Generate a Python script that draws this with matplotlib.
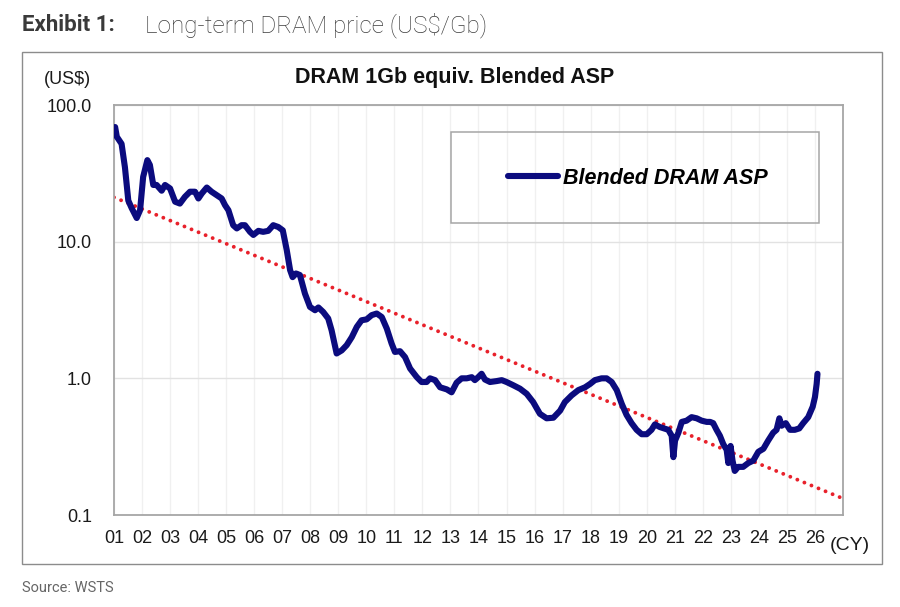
import matplotlib
matplotlib.use("Agg")
import matplotlib.pyplot as plt
from matplotlib.patches import Rectangle
import numpy as np

# blended DRAM ASP, US$ per 1Gb equivalent
years = [2001.04, 2001.10, 2001.27, 2001.39, 2001.51, 2001.63, 2001.81, 2001.93,
         2002.04, 2002.19, 2002.28, 2002.40, 2002.52, 2002.70, 2002.82, 2003.00,
         2003.18, 2003.35, 2003.53, 2003.71, 2003.89, 2004.01, 2004.13, 2004.31,
         2004.48, 2004.66, 2004.84, 2004.96, 2005.08, 2005.25, 2005.38, 2005.55,
         2005.67, 2005.85, 2005.97, 2006.15, 2006.32, 2006.50, 2006.68, 2006.86,
         2007.02, 2007.16, 2007.28, 2007.37, 2007.49, 2007.63, 2007.81, 2007.99,
         2008.17, 2008.29, 2008.46, 2008.64, 2008.76, 2008.94, 2009.12, 2009.30,
         2009.48, 2009.66, 2009.83, 2010.01, 2010.19, 2010.37, 2010.55, 2010.73,
         2010.90, 2011.02, 2011.20, 2011.38, 2011.56, 2011.80, 2011.97, 2012.15,
         2012.27, 2012.45, 2012.63, 2012.87, 2013.04, 2013.22, 2013.40, 2013.58,
         2013.76, 2013.87, 2013.99, 2014.11, 2014.23, 2014.41, 2014.65, 2014.83,
         2015.00, 2015.24, 2015.48, 2015.72, 2015.95, 2016.19, 2016.43, 2016.67,
         2016.91, 2017.08, 2017.32, 2017.56, 2017.80, 2017.98, 2018.15, 2018.39,
         2018.57, 2018.75, 2018.93, 2019.11, 2019.28, 2019.46, 2019.64, 2019.82,
         2020.00, 2020.17, 2020.29, 2020.47, 2020.77, 2020.89, 2020.95, 2021.01,
         2021.13, 2021.25, 2021.42, 2021.60, 2021.78, 2021.96, 2022.14, 2022.26,
         2022.37, 2022.49, 2022.61, 2022.73, 2022.85, 2022.91, 2022.99, 2023.06,
         2023.14, 2023.26, 2023.44, 2023.62, 2023.80, 2023.98, 2024.16, 2024.33,
         2024.51, 2024.63, 2024.73, 2024.81, 2024.96, 2025.11, 2025.28, 2025.44,
         2025.58, 2025.76, 2025.92, 2026.00, 2026.06, 2026.09]
asp = [69, 58.6, 52, 35, 20, 17.6, 14.9, 17,
       29.8, 39.5, 36.4, 26, 26, 23.6, 26, 24.5,
       19.6, 19, 21.3, 23.2, 23.2, 20.7, 22.5, 24.9,
       23.2, 21.9, 20.7, 18.5, 17, 13.2, 12.5, 13.2,
       13.2, 11.8, 11.2, 12, 11.8, 12, 13.2, 12.8,
       12.1, 8.7, 6.2, 5.5, 5.85, 5.7, 4.17, 3.33,
       3.15, 3.3, 3.06, 2.74, 2.25, 1.52, 1.6, 1.75,
       2.0, 2.38, 2.66, 2.7, 2.9, 2.98, 2.81, 2.31,
       1.8, 1.56, 1.58, 1.43, 1.18, 1.02, 0.94, 0.94,
       1.0, 0.97, 0.86, 0.83, 0.79, 0.93, 1.0, 1.0,
       1.02, 0.97, 1.02, 1.08, 0.98, 0.94, 0.955, 0.97,
       0.94, 0.89, 0.84, 0.77, 0.67, 0.55, 0.51, 0.515,
       0.58, 0.67, 0.75, 0.82, 0.86, 0.91, 0.97, 1.0,
       1.0, 0.94, 0.82, 0.65, 0.54, 0.47, 0.42, 0.39,
       0.39, 0.42, 0.46, 0.44, 0.42, 0.38, 0.265, 0.35,
       0.40, 0.48, 0.49, 0.52, 0.51, 0.49, 0.48, 0.48,
       0.47, 0.42, 0.38, 0.33, 0.30, 0.24, 0.32, 0.25,
       0.21, 0.225, 0.225, 0.24, 0.25, 0.29, 0.305, 0.35,
       0.40, 0.42, 0.51, 0.45, 0.47, 0.42, 0.42, 0.43,
       0.47, 0.52, 0.62, 0.73, 0.91, 1.08]

# log-linear trend line end points
trend_years = [2001, 2027]
trend_vals = [21.1, 0.132]

year_ticks = list(range(2001, 2027))
year_labels = ["%02d" % (y - 2000) for y in year_ticks]
y_ticks = [0.1, 1, 10, 100]
y_labels = ["0.1", "1.0", "10.0", "100.0"]

W, H = 900, 607
fig = plt.figure(figsize=(9, 6.07), dpi=100)
plt.rcParams['font.family'] = ['Liberation Sans', 'DejaVu Sans']

def fx(px):
	return px / W

def fy(py):
	return 1 - py / H

# outer frame around the chart
fig.patches.append(Rectangle((fx(22), fy(564)), 860 / W, 512 / H, transform=fig.transFigure,
                             fill=False, edgecolor="#8c8c8c", linewidth=1.0))

ax = fig.add_axes([fx(114), fy(515), 729 / W, 410 / H])
ax.set_yscale("log")
ax.set_xlim(2001, 2027)
ax.set_ylim(0.1, 100)

ax.plot(trend_years, trend_vals, color="#e8212b", linewidth=2.8,
        linestyle=(0, (0.01, 1.95)), dash_capstyle="round", zorder=2)
line, = ax.plot(years, asp, color="#0b0b7e", linewidth=4.4, solid_capstyle="round",
                solid_joinstyle="round", zorder=3, label="Blended DRAM ASP")

ax.set_xticks(year_ticks)
ax.set_xticklabels(year_labels)
ax.set_yticks(y_ticks)
ax.set_yticklabels(y_labels)
ax.yaxis.set_minor_locator(matplotlib.ticker.NullLocator())
ax.tick_params(axis="both", length=0, labelsize=13, labelcolor="#1a1a1a")
ax.tick_params(axis="x", pad=11)
ax.tick_params(axis="y", pad=16)
ax.grid(axis="x", color="#f0f0f0", linewidth=1.0)
ax.grid(axis="y", color="#e2e2e2", linewidth=1.0)
ax.set_axisbelow(True)
for s in ax.spines.values():
	s.set_color("#a6a6a6")
	s.set_linewidth(1.3)

# legend box
ax.add_patch(Rectangle((337 / 729, 292 / 410), 368 / 729, 91 / 410, transform=ax.transAxes,
                       fill=False, edgecolor="#a6a6a6", linewidth=1.1, zorder=4))
ax.legend(handles=[line], loc="center", bbox_to_anchor=(524 / 729, 337 / 410),
          frameon=False, borderpad=0, handlelength=2.3, handletextpad=0.25,
          prop={"family": "Liberation Sans", "weight": "bold", "style": "italic", "size": 15.5})

fig.text(fx(455), fy(78), "DRAM 1Gb equiv. Blended ASP", ha="center", va="center",
         fontsize=15.5, fontweight="bold", color="#111111")
fig.text(fx(91), fy(80), "(US$)", ha="right", va="center", fontsize=13, color="#1a1a1a")
fig.text(fx(850), fy(545), "(CY)", ha="center", va="center", fontsize=14, color="#1a1a1a")

fig.text(fx(22), fy(25), "Exhibit 1:", ha="left", va="center", fontsize=16,
         fontweight="bold", color="#3a3a3a", family="Roboto")
fig.text(fx(145), fy(25), "Long-term DRAM price (US$/Gb)", ha="left", va="center",
         fontsize=17.5, fontweight="light", color="#3d3d3d", family="Roboto")
fig.text(fx(22), fy(588), "Source: WSTS", ha="left", va="center", fontsize=10.5,
         color="#666666", family="Roboto")

fig.savefig("out.png", dpi=100)
